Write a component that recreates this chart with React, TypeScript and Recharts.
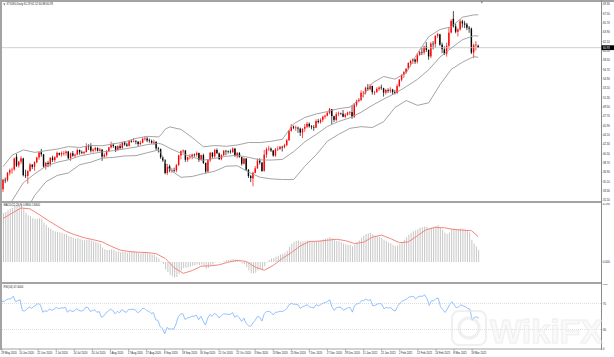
import { Bar, ComposedChart, Line, ReferenceLine, XAxis, YAxis } from "recharts";

// one label every 8 bars, starting at bar 0
const dateLabels = [
  "29 May 2020", "10 Jun 2020", "22 Jun 2020", "2 Jul 2020", "14 Jul 2020", "24 Jul 2020",
  "5 Aug 2020", "17 Aug 2020", "27 Aug 2020", "8 Sep 2020", "18 Sep 2020", "30 Sep 2020",
  "12 Oct 2020", "22 Oct 2020", "3 Nov 2020", "13 Nov 2020", "25 Nov 2020", "7 Dec 2020",
  "17 Dec 2020", "29 Dec 2020", "11 Jan 2021", "21 Jan 2021", "2 Feb 2021", "12 Feb 2021",
  "24 Feb 2021", "8 Mar 2021", "18 Mar 2021",
];

const opens = [
  33.6, 35.45, 35.4, 36.8, 37.3, 37.45, 39.9, 38.2, 38.95, 39.55,
  36.3, 36.2, 37.15, 38.35, 37.95, 38.85, 39.75, 40.75, 40.35, 38.0,
  38.7, 38.45, 39.7, 39.25, 39.8, 40.6, 40.35, 40.6, 40.6, 40.9,
  39.6, 40.55, 40.1, 40.3, 41.2, 40.75, 40.6, 40.8, 41.95, 41.9,
  41.05, 41.25, 41.6, 41.05, 41.25, 39.9, 40.25, 41.0, 41.7, 42.2,
  41.95, 41.2, 41.95, 41.6, 42.65, 42.25, 42.0, 42.9, 42.9, 42.95,
  42.8, 42.35, 42.6, 43.35, 43.4, 43.05, 42.95, 42.6, 42.75, 41.5,
  41.35, 39.75, 39.2, 36.75, 38.05, 37.3, 37.3, 37.25, 38.3, 40.15,
  40.95, 41.1, 39.3, 39.8, 39.95, 40.3, 40.25, 40.6, 39.3, 40.2,
  38.7, 37.05, 39.2, 40.65, 39.95, 41.2, 40.55, 39.45, 40.2, 41.05,
  40.95, 40.9, 40.8, 41.45, 40.0, 40.6, 39.8, 38.55, 39.55, 37.4,
  36.15, 35.7, 36.8, 37.65, 39.15, 38.75, 37.2, 40.3, 41.35, 41.45,
  41.1, 40.1, 41.35, 41.4, 41.8, 41.75, 42.15, 43.05, 44.9, 45.7,
  45.5, 45.5, 45.3, 44.55, 45.3, 45.65, 46.25, 45.75, 45.6, 45.5,
  46.8, 46.55, 47.0, 47.6, 47.8, 48.35, 49.05, 47.7, 47.0, 48.1,
  48.25, 48.2, 47.6, 48.0, 48.4, 48.5, 47.6, 49.9, 50.6, 50.85,
  52.2, 52.25, 53.2, 52.9, 53.55, 52.35, 52.4, 52.95, 53.25, 53.1,
  52.25, 52.75, 52.6, 52.85, 52.35, 52.2, 53.55, 54.75, 55.7, 56.2,
  56.85, 57.95, 58.35, 58.65, 58.25, 59.5, 60.1, 60.0, 61.15, 60.5,
  59.25, 61.7, 61.65, 63.2, 63.5, 61.5, 60.6, 59.75, 61.3, 63.85,
  66.5, 65.05, 64.0, 64.45, 66.0, 65.6, 65.4, 64.8, 64.6, 60.0,
  61.4, 61.29,
];

const highs = [
  35.6, 35.9, 36.95, 37.6, 37.8, 39.75, 40.45, 39.1, 40.0, 39.7,
  37.4, 37.3, 38.7, 38.5, 39.0, 39.9, 40.8, 41.4, 40.45, 38.9,
  39.1, 39.8, 40.1, 40.0, 40.9, 40.7, 40.9, 41.0, 41.1, 41.0,
  40.7, 41.0, 40.5, 41.5, 41.3, 41.1, 41.0, 42.5, 42.3, 42.5,
  41.5, 41.8, 41.7, 41.6, 41.4, 40.6, 41.2, 41.8, 42.8, 42.5,
  42.0, 42.1, 42.4, 42.8, 42.9, 42.6, 43.1, 43.2, 43.5, 43.1,
  42.9, 43.0, 43.6, 43.8, 43.7, 43.4, 43.2, 43.2, 42.9, 41.8,
  41.5, 39.9, 39.4, 38.5, 38.4, 37.7, 37.8, 38.5, 40.3, 41.1,
  41.3, 41.2, 39.9, 40.4, 40.5, 40.5, 40.9, 40.7, 40.3, 40.5,
  38.8, 39.4, 40.8, 40.8, 41.4, 41.5, 40.7, 40.4, 41.2, 41.2,
  41.1, 41.3, 41.7, 41.6, 40.8, 40.8, 39.9, 39.7, 39.6, 37.5,
  36.4, 37.0, 38.1, 39.6, 39.6, 38.9, 41.2, 41.7, 42.0, 41.7,
  41.2, 41.6, 41.9, 42.0, 42.0, 42.4, 43.3, 45.0, 46.2, 45.9,
  45.9, 45.7, 45.5, 45.4, 46.2, 46.6, 46.5, 46.0, 46.0, 47.1,
  47.2, 47.3, 47.8, 48.0, 48.6, 49.3, 49.1, 47.8, 48.5, 48.6,
  48.4, 48.9, 48.3, 48.6, 48.7, 49.8, 50.2, 50.9, 51.2, 52.7,
  52.6, 53.4, 53.9, 53.9, 53.6, 52.6, 53.3, 53.5, 53.8, 53.2,
  53.0, 53.1, 53.3, 53.0, 52.8, 53.9, 54.9, 55.8, 56.4, 57.0,
  58.1, 58.6, 58.9, 58.8, 59.8, 60.4, 60.9, 61.3, 62.0, 60.6,
  62.0, 62.2, 63.3, 63.8, 63.6, 61.9, 61.2, 61.9, 64.9, 66.4,
  67.98, 65.6, 64.7, 66.4, 66.3, 66.1, 65.7, 65.1, 64.8, 61.7,
  62.2, 61.52,
];

const lows = [
  33.1, 34.8, 35.1, 36.3, 36.6, 37.2, 37.9, 37.8, 38.5, 36.1,
  35.8, 34.7, 37.0, 37.5, 37.2, 38.6, 39.3, 39.9, 37.8, 37.4,
  37.9, 38.0, 38.9, 38.9, 39.6, 40.1, 39.9, 40.1, 40.1, 39.4,
  39.1, 39.9, 39.7, 40.2, 40.3, 40.4, 40.3, 40.7, 41.2, 40.7,
  40.7, 40.9, 40.9, 40.9, 39.1, 39.7, 39.9, 40.8, 41.5, 41.6,
  40.8, 41.1, 41.3, 41.4, 42.0, 41.8, 41.9, 42.6, 42.7, 42.3,
  41.9, 42.1, 42.5, 43.0, 42.7, 42.6, 42.4, 42.2, 41.2, 40.7,
  39.5, 38.9, 36.5, 36.4, 36.9, 36.8, 36.9, 36.9, 38.1, 39.4,
  40.6, 38.9, 38.9, 39.4, 39.4, 39.9, 39.9, 38.9, 39.1, 38.5,
  36.7, 36.9, 38.9, 39.6, 39.7, 40.4, 39.3, 39.2, 40.0, 40.2,
  40.5, 40.5, 40.6, 39.9, 39.6, 39.7, 38.2, 38.4, 37.2, 35.8,
  35.0, 34.2, 36.7, 37.6, 38.4, 37.0, 37.0, 39.7, 41.0, 40.8,
  39.9, 39.9, 41.0, 41.2, 40.9, 41.5, 41.9, 43.0, 44.7, 45.2,
  44.9, 44.5, 43.9, 43.5, 44.7, 45.4, 45.5, 45.2, 44.9, 45.4,
  46.3, 46.3, 46.6, 47.2, 47.7, 48.1, 46.2, 46.6, 46.7, 47.7,
  48.0, 47.5, 47.4, 47.8, 47.9, 47.2, 47.4, 49.5, 50.4, 50.6,
  51.3, 51.9, 52.6, 52.7, 51.9, 51.8, 52.2, 52.6, 52.8, 51.5,
  51.9, 52.2, 52.2, 51.8, 51.9, 52.0, 53.3, 54.4, 55.1, 55.9,
  56.7, 57.3, 57.8, 57.8, 57.9, 59.4, 59.5, 59.6, 60.1, 58.6,
  58.9, 60.6, 60.9, 62.8, 61.3, 59.9, 59.5, 59.2, 60.7, 63.7,
  64.8, 63.7, 63.1, 64.2, 64.8, 64.7, 64.3, 63.8, 59.7, 58.9,
  60.4, 60.88,
];

const closes = [
  35.49, 35.44, 36.81, 37.29, 37.41, 39.55, 38.19, 38.94, 39.6, 36.34,
  36.26, 37.12, 38.38, 37.96, 38.84, 39.75, 40.73, 40.37, 38.01, 38.72,
  38.49, 39.7, 39.27, 39.82, 40.65, 40.3, 40.63, 40.62, 40.9, 39.62,
  40.55, 40.1, 40.29, 41.2, 40.75, 40.59, 40.81, 41.96, 41.9, 41.07,
  41.29, 41.6, 41.04, 41.27, 39.92, 40.27, 41.01, 41.7, 42.19, 41.95,
  41.22, 41.94, 41.61, 42.67, 42.24, 42.01, 42.89, 42.89, 42.93, 42.82,
  42.34, 42.62, 43.35, 43.39, 43.04, 42.97, 42.61, 42.76, 41.51, 41.37,
  39.77, 39.2, 36.76, 38.05, 37.3, 37.33, 37.26, 38.28, 40.16, 40.97,
  41.11, 39.31, 39.8, 39.93, 40.31, 40.25, 40.6, 39.29, 40.22, 38.72,
  37.05, 39.22, 40.67, 39.95, 41.19, 40.6, 39.43, 40.2, 41.04, 40.96,
  40.88, 40.83, 41.46, 40.03, 40.64, 39.85, 38.56, 39.57, 37.39, 36.17,
  35.79, 36.81, 37.66, 39.15, 38.79, 37.14, 40.29, 41.36, 41.45, 41.12,
  40.13, 41.34, 41.43, 41.82, 41.74, 42.15, 43.06, 44.91, 45.71, 45.5,
  45.53, 45.34, 44.55, 45.28, 45.64, 46.26, 45.76, 45.6, 45.52, 46.78,
  46.57, 46.99, 47.62, 47.82, 48.36, 49.1, 47.74, 47.02, 48.12, 48.23,
  48.2, 47.62, 48.0, 48.4, 48.52, 47.62, 49.93, 50.63, 50.83, 52.24,
  52.25, 53.21, 52.91, 53.57, 52.36, 52.4, 52.98, 53.24, 53.13, 52.27,
  52.77, 52.61, 52.85, 52.34, 52.2, 53.55, 54.76, 55.69, 56.23, 56.85,
  57.97, 58.36, 58.68, 58.24, 59.47, 60.1, 60.05, 61.14, 60.52, 59.24,
  61.7, 61.67, 63.22, 63.53, 61.5, 60.64, 59.75, 61.28, 63.83, 66.09,
  65.05, 64.01, 64.44, 66.02, 65.61, 65.39, 64.8, 64.6, 60.0, 61.42,
  61.55, 60.93,
];

// Bollinger bands (20, 2), read at these bars
const bbBars = [
  0, 4, 9, 14, 19, 24, 29, 34, 39, 44, 49, 54, 59, 64, 69, 70, 72, 74, 79, 84,
  89, 94, 99, 104, 109, 114, 119, 124, 129, 134, 139, 144, 149, 154, 159, 164, 169, 174, 179, 184,
  189, 194, 199, 204, 209, 211,
];
const bbUpper = [
  38.0, 40.2, 41.22, 40.74, 41.06, 41.37, 41.85, 41.68, 42.06, 42.02, 42.37, 42.77, 43.43, 43.83, 43.72, 44.05, 45.23, 45.65, 45.17, 43.58,
  41.81, 42.06, 41.91, 42.16, 42.64, 42.63, 42.87, 43.26, 46.25, 47.47, 48.14, 48.61, 49.17, 49.45, 51.26, 54.13, 55.38, 54.86, 56.09, 59.85,
  63.06, 64.44, 64.95, 66.81, 67.25, 67.28,
];
const bbMiddle = [
  28.2, 31.44, 34.9, 36.58, 38.06, 38.83, 39.31, 40.02, 40.46, 40.82, 41.07, 41.41, 41.77, 42.25, 42.46, 42.39, 42.01, 41.53, 40.55, 39.84,
  39.23, 39.58, 39.99, 40.16, 39.78, 39.29, 39.25, 39.38, 40.87, 42.77, 44.2, 45.75, 46.69, 47.41, 48.48, 49.83, 51.02, 52.12, 53.41, 54.83,
  56.68, 59.12, 60.85, 62.47, 63.23, 63.18,
];
const bbLower = [
  18.4, 22.7, 28.58, 32.42, 35.06, 36.29, 36.77, 38.36, 38.86, 39.62, 39.77, 40.05, 40.11, 40.67, 41.2, 40.73, 38.79, 37.41, 35.93, 36.1,
  36.65, 37.1, 38.07, 38.16, 36.92, 35.95, 35.63, 35.5, 35.49, 38.07, 40.26, 42.89, 44.21, 45.37, 45.7, 45.53, 46.66, 49.38, 50.73, 49.81,
  50.3, 53.8, 56.75, 58.13, 59.21, 59.08,
];

const macdValues = [
  3.55, 3.62, 3.75, 3.86, 3.92, 4.1, 4.12, 4.15, 4.19, 3.88,
  3.58, 3.4, 3.32, 3.18, 3.12, 3.13, 3.18, 3.14, 2.86, 2.68,
  2.5, 2.42, 2.3, 2.22, 2.2, 2.15, 2.1, 2.05, 2.02, 1.88,
  1.84, 1.76, 1.7, 1.72, 1.68, 1.62, 1.58, 1.62, 1.64, 1.56,
  1.5, 1.46, 1.38, 1.32, 1.05, 0.92, 0.88, 0.88, 0.9, 0.88,
  0.78, 0.76, 0.7, 0.74, 0.72, 0.68, 0.72, 0.74, 0.75, 0.72,
  0.65, 0.62, 0.68, 0.7, 0.66, 0.62, 0.55, 0.52, 0.38, 0.26,
  0.04, -0.15, -0.55, -0.72, -0.92, -1.04, -1.12, -1.08, -0.86, -0.62,
  -0.44, -0.42, -0.38, -0.34, -0.28, -0.24, -0.18, -0.22, -0.18, -0.28,
  -0.48, -0.42, -0.25, -0.18, -0.04, 0.02, -0.03, 0.0, 0.08, 0.13,
  0.16, 0.18, 0.24, 0.16, 0.14, 0.06, -0.1, -0.16, -0.36, -0.6,
  -0.8, -0.82, -0.78, -0.62, -0.52, -0.56, -0.3, -0.04, 0.15, 0.26,
  0.28, 0.38, 0.45, 0.54, 0.6, 0.68, 0.82, 1.08, 1.32, 1.46,
  1.54, 1.56, 1.48, 1.48, 1.5, 1.56, 1.54, 1.5, 1.45, 1.52,
  1.54, 1.58, 1.64, 1.68, 1.74, 1.82, 1.72, 1.58, 1.54, 1.5,
  1.44, 1.34, 1.28, 1.26, 1.25, 1.14, 1.28, 1.44, 1.56, 1.76,
  1.9, 2.04, 2.08, 2.12, 2.02, 1.92, 1.86, 1.82, 1.76, 1.62,
  1.52, 1.42, 1.36, 1.26, 1.16, 1.2, 1.3, 1.45, 1.62, 1.8,
  1.98, 2.12, 2.24, 2.28, 2.38, 2.48, 2.52, 2.58, 2.56, 2.42,
  2.5, 2.52, 2.62, 2.68, 2.52, 2.34, 2.12, 2.04, 2.14, 2.38,
  2.44, 2.4, 2.38, 2.44, 2.42, 2.36, 2.26, 2.14, 1.62, 1.34,
  1.12, 0.88,
];

const signalBars = [
  0, 4, 8, 12, 16, 20, 24, 28, 32, 36, 40, 44, 48, 52, 56, 60, 64, 68, 72, 76,
  80, 84, 88, 92, 96, 100, 104, 108, 112, 116, 120, 124, 128, 132, 136, 140, 144, 148, 152, 156,
  160, 164, 168, 172, 176, 180, 184, 188, 192, 196, 200, 204, 208, 211,
];
const signalValues = [
  3.16, 3.55, 3.92, 3.85, 3.44, 3.01, 2.61, 2.22, 1.97, 1.76, 1.62, 1.46, 1.14, 0.86, 0.76, 0.71, 0.69, 0.6, 0.26, -0.42,
  -0.82, -0.62, -0.3, -0.28, -0.2, -0.01, 0.12, 0.04, -0.38, -0.6, -0.24, 0.26, 0.68, 1.17, 1.49, 1.51, 1.58, 1.65, 1.55, 1.34,
  1.43, 1.8, 1.95, 1.7, 1.4, 1.46, 1.91, 2.35, 2.51, 2.48, 2.36, 2.31, 2.27, 1.84,
];

const rsiValues = [
  73.3, 73.0, 76.1, 77.1, 77.4, 81.3, 72.6, 74.3, 75.7, 58.9,
  58.6, 61.2, 64.7, 62.6, 65.1, 67.5, 69.9, 68.0, 56.6, 58.8,
  57.8, 61.6, 59.5, 61.3, 63.9, 62.0, 63.1, 63.1, 64.1, 56.4,
  60.2, 57.6, 58.5, 62.2, 59.3, 58.3, 59.3, 64.3, 63.9, 58.0,
  59.0, 60.5, 56.4, 57.7, 48.7, 50.8, 55.1, 58.7, 61.1, 59.3,
  54.1, 58.0, 55.6, 61.0, 57.9, 56.3, 60.9, 60.9, 61.1, 60.0,
  55.8, 57.7, 62.1, 62.4, 58.9, 58.2, 54.6, 55.9, 45.0, 44.0,
  34.3, 31.6, 23.3, 33.2, 30.7, 30.9, 30.6, 38.5, 49.7, 53.7,
  54.3, 45.3, 47.8, 48.5, 50.6, 50.2, 52.2, 45.0, 50.3, 43.1,
  36.8, 47.6, 53.3, 50.3, 54.9, 52.5, 47.8, 50.9, 54.1, 53.7,
  53.4, 53.2, 56.0, 48.8, 51.7, 47.9, 42.5, 47.5, 39.6, 36.0,
  34.9, 40.0, 44.0, 50.3, 48.8, 42.9, 54.3, 57.5, 57.8, 56.4,
  52.4, 56.5, 56.7, 58.1, 57.7, 59.2, 62.4, 68.0, 70.1, 68.8,
  68.9, 67.7, 62.5, 65.1, 66.3, 68.5, 64.9, 63.8, 63.3, 68.2,
  66.6, 68.2, 70.6, 71.3, 73.2, 75.6, 64.3, 59.2, 63.8, 64.3,
  64.0, 59.6, 61.5, 63.4, 64.0, 56.7, 67.1, 69.4, 70.1, 74.3,
  74.4, 76.9, 74.5, 76.3, 66.7, 66.9, 69.0, 70.0, 69.0, 61.8,
  64.1, 62.8, 64.0, 59.7, 58.5, 65.5, 70.4, 73.5, 75.1, 76.8,
  79.7, 80.5, 81.2, 77.0, 80.1, 81.4, 81.0, 83.2, 77.6, 67.2,
  74.3, 74.1, 77.7, 78.3, 65.2, 60.6, 56.2, 61.4, 68.2, 72.8,
  67.9, 63.4, 64.5, 68.1, 66.3, 65.2, 62.4, 61.4, 44.1, 48.9,
  49.4, 47.4,
];

const priceTicks = [
  69.3, 67.5, 65.7, 63.9, 62.1, 60.3, 58.5, 56.7, 54.9, 53.1, 51.3,
  49.5, 47.7, 45.9, 44.1, 42.3, 40.5, 38.7, 36.9, 35.1, 33.3, 31.5,
];
const macdTicks = [4.19, 0];
const rsiTicks = [100, 70, 30, 0];

const lastPrice = 60.93;
const TOTAL_SLOTS = 266; // bars plus the empty space on the right

const bbAt = new Map(bbBars.map((bar, k) => [bar, k]));
const sigAt = new Map(signalBars.map((bar, k) => [bar, k]));

const rows = Array.from({ length: TOTAL_SLOTS }, (_, i) => {
  const has = i < closes.length;
  const b = bbAt.get(i);
  const s = sigAt.get(i);
  return {
    i,
    open: has ? opens[i] : null,
    high: has ? highs[i] : null,
    low: has ? lows[i] : null,
    close: has ? closes[i] : null,
    bbU: b === undefined ? null : bbUpper[b],
    bbM: b === undefined ? null : bbMiddle[b],
    bbL: b === undefined ? null : bbLower[b],
    macd: has ? macdValues[i] : null,
    signal: s === undefined ? null : signalValues[s],
    rsi: has ? rsiValues[i] : null,
  };
});

const FONT = "'Liberation Sans', Arial, sans-serif";
const TXT = 2.7;
const GRAY = "#8a8a8a";

const Candle = (props: any) => {
  const { x, y, width, height, payload } = props;
  if (payload == null || payload.high == null) return <g />;
  const { open, close, high, low } = payload;
  const up = close >= open;
  const color = up ? "#ff0000" : "#000000";
  const top = Math.min(y, y + height);
  const h = Math.abs(height);
  const range = high - low;
  const py = (p: number) => (range === 0 ? top : top + ((high - p) / range) * h);
  const cx = x + width / 2;
  const bTop = py(Math.max(open, close));
  const bBot = py(Math.min(open, close));
  const bw = 1.4;
  return (
    <g>
      <line x1={cx} x2={cx} y1={top} y2={top + h} stroke={color} strokeWidth={0.7} />
      <rect x={cx - bw / 2} y={bTop} width={bw} height={Math.max(0.6, bBot - bTop)} fill={color} />
    </g>
  );
};

const rightTick = (digits: number) => (props: any) => {
  const { x, y, payload } = props;
  return (
    <text x={x} y={y + 1} fontSize={TXT} fill="#222" fontFamily={FONT}>
      {Number(payload.value).toFixed(digits)}
    </text>
  );
};

const DateTick = (props: any) => {
  const { x, y, payload } = props;
  const i = payload.value as number;
  const label = i % 8 === 0 ? dateLabels[i / 8] : undefined;
  if (!label) return <g />;
  return (
    <g>
      <line x1={x} x2={x} y1={y - 2} y2={y} stroke={GRAY} strokeWidth={0.6} />
      <text x={x - 0.8} y={y + 2.8} fontSize={TXT} fill="#222" fontFamily={FONT}>
        {label}
      </text>
    </g>
  );
};

const PriceTag = (props: any) => {
  const vb = props.viewBox;
  if (!vb) return null;
  const x = vb.x + vb.width;
  return (
    <g>
      <rect x={x + 0.5} y={vb.y - 2.4} width={13} height={4.8} fill="#000" />
      <text x={x + 2} y={vb.y + 1} fontSize={TXT} fill="#fff" fontFamily={FONT}>
        {lastPrice.toFixed(2)}
      </text>
    </g>
  );
};

const margin = { top: 0, right: 0, bottom: 0, left: 2 };

export default function App() {
  return (
    <div
      style={{
        position: "fixed",
        left: 0,
        top: 0,
        width: 614,
        height: 357,
        background: "#fff",
        overflow: "hidden",
      }}
    >
      {/* frame */}
      <div style={{ position: "absolute", left: 0, top: 0, width: 2, height: 350, background: "#a3a3a3" }} />
      <div style={{ position: "absolute", left: 0, top: 0, width: 614, height: 1.5, background: "#a3a3a3" }} />
      <div style={{ position: "absolute", left: 0, top: 201, width: 601, height: 2, background: "#a3a3a3" }} />
      <div style={{ position: "absolute", left: 0, top: 282, width: 601, height: 1.5, background: "#a3a3a3" }} />
      <div style={{ position: "absolute", left: 601, top: 0, width: 1, height: 350, background: GRAY }} />

      <div style={{ position: "absolute", left: 0, top: 2 }}>
        <ComposedChart width={614} height={199} data={rows} margin={margin} barCategoryGap={0} barGap={0}>
          <XAxis dataKey="i" hide />
          <YAxis
            orientation="right"
            width={13}
            domain={[31.36, 69.74]}
            ticks={priceTicks}
            interval={0}
            allowDataOverflow
            axisLine={false}
            tickLine={{ stroke: GRAY, strokeWidth: 0.6 }}
            tickSize={1.5}
            tickMargin={0.5}
            tick={rightTick(2)}
          />
          <ReferenceLine y={lastPrice} stroke="#c4c4c4" strokeWidth={0.8} label={PriceTag} />
          <Line dataKey="bbU" stroke="#9a9a9a" strokeWidth={0.9} dot={false} connectNulls isAnimationActive={false} />
          <Line dataKey="bbM" stroke="#9a9a9a" strokeWidth={0.9} dot={false} connectNulls isAnimationActive={false} />
          <Line dataKey="bbL" stroke="#9a9a9a" strokeWidth={0.9} dot={false} connectNulls isAnimationActive={false} />
          <Bar
            dataKey={(d: any) => (d.high == null ? null : [d.low, d.high])}
            shape={Candle}
            isAnimationActive={false}
          />
        </ComposedChart>
      </div>

      <div style={{ position: "absolute", left: 0, top: 203 }}>
        <ComposedChart width={614} height={79} data={rows} margin={margin} barCategoryGap={0} barGap={0}>
          <XAxis dataKey="i" hide />
          <YAxis
            orientation="right"
            width={13}
            domain={[-1.45, 4.28]}
            ticks={macdTicks}
            interval={0}
            allowDataOverflow
            axisLine={false}
            tickLine={{ stroke: GRAY, strokeWidth: 0.6 }}
            tickSize={1.5}
            tickMargin={0.5}
            tick={rightTick(3)}
          />
          <Bar dataKey="macd" fill="#c6c6c6" barSize={1} isAnimationActive={false} />
          <Line dataKey="signal" stroke="#f4857f" strokeWidth={1} dot={false} connectNulls isAnimationActive={false} />
        </ComposedChart>
      </div>

      <div style={{ position: "absolute", left: 0, top: 284 }}>
        <ComposedChart width={614} height={73} data={rows} margin={margin}>
          <XAxis
            dataKey="i"
            height={8}
            interval={7}
            axisLine={{ stroke: GRAY, strokeWidth: 0.8 }}
            tickLine={false}
            tickSize={0}
            tickMargin={2}
            tick={DateTick}
          />
          <YAxis
            orientation="right"
            width={13}
            domain={[0, 100]}
            ticks={rsiTicks}
            interval={0}
            axisLine={false}
            tickLine={{ stroke: GRAY, strokeWidth: 0.6 }}
            tickSize={1.5}
            tickMargin={0.5}
            tick={rightTick(0)}
          />
          <ReferenceLine y={70} stroke="#cfcfcf" strokeWidth={0.7} strokeDasharray="1 1" />
          <ReferenceLine y={30} stroke="#cfcfcf" strokeWidth={0.7} strokeDasharray="1 1" />
          <Line dataKey="rsi" stroke="#86bbff" strokeWidth={0.9} dot={false} isAnimationActive={false} />
        </ComposedChart>
      </div>

      {/* pane captions and watermark */}
      <svg width={614} height={357} style={{ position: "absolute", left: 0, top: 0, pointerEvents: "none" }}>
        <path d="M3.2 3.6 L5.4 3.6 L4.3 5.2 Z" fill="#555" />
        <text x={6.5} y={5.3} fontSize={TXT} fill="#222" fontFamily={FONT}>
          XTIUSD,Daily  61.29 61.52 60.88 60.93
        </text>
        <path d="M480.6 1.6 L483 1.6 L481.8 3.4 Z" fill="#777" />
        <text x={3.5} y={206.3} fontSize={TXT} fill="#222" fontFamily={FONT}>
          MACD(12,26,9) 0.8800 1.8400
        </text>
        <text x={3.5} y={287.6} fontSize={TXT} fill="#222" fontFamily={FONT}>
          RSI(14) 47.4000
        </text>
        <g opacity={0.55}>
          <rect x={452} y={311} width={34} height={34} rx={7} fill="none" stroke="#e4e4e4" strokeWidth={2} />
          <circle cx={469} cy={328} r={10} fill="none" stroke="#e4e4e4" strokeWidth={3} />
          <text
            x={490}
            y={343}
            fontSize={34}
            fontWeight={700}
            fill="#f6f6f6"
            stroke="#e2e2e2"
            strokeWidth={1}
            fontFamily={FONT}
          >
            WikiFX
          </text>
        </g>
      </svg>
    </div>
  );
}
